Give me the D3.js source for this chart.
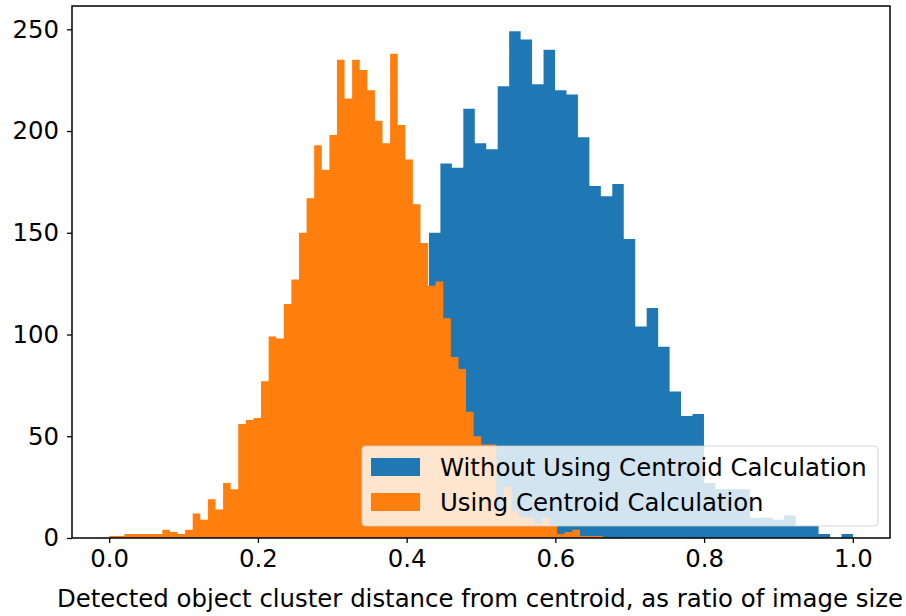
<!DOCTYPE html>
<html>
<head>
<meta charset="utf-8">
<script src="https://cdn.jsdelivr.net/npm/d3@7"></script>
<style>
  html, body { margin: 0; padding: 0; background: #fff; }
  svg { display: block; font-family: "DejaVu Sans", sans-serif; }
</style>
</head>
<body>
<svg id="chart" width="906" height="616"></svg>
<script>
// ---- data (histogram counts) ----
const seriesNames = ["Without Using Centroid Calculation", "Using Centroid Calculation"];
const seriesColors = ["#1f77b4", "#ff7f0e"];

// Without Using Centroid Calculation: bins start at 0.430, width 0.01541
const blueStart = 0.430;
const blueWidth = 0.01541;
const blueCounts = [150, 184, 182, 211, 194, 191, 222, 249, 245, 223, 240, 220, 218, 197, 173, 168, 174, 147,
                    104, 113, 94, 72, 60, 61, 27, 24, 24, 24, 10, 10, 9, 11, 6, 6, 2, 0, 2];

// Using Centroid Calculation: bins start at 0.0, width 0.01021
const orangeStart = 0.0;
const orangeWidth = 0.01021;
const orangeCounts = [1, 1, 2, 2, 2, 2, 2, 4, 3, 2, 4, 12, 9, 19, 14, 27, 24, 56, 58, 59,
                      77, 99, 98, 115, 127, 150, 167, 193, 181, 198, 235, 216, 235, 230, 220, 205, 194, 238, 203, 186,
                      164, 145, 124, 126, 108, 89, 83, 62, 50, 46, 46, 13, 25, 13, 10, 10, 7, 10, 6, 2,
                      3, 4, 1, 1, 1];

const xTicks = [0.0, 0.2, 0.4, 0.6, 0.8, 1.0];
const yTicks = [0, 50, 100, 150, 200, 250];
const xLabel = "Detected object cluster distance from centroid, as ratio of image size";

// ---- layout ----
const FS = 24.4;
const svg = d3.select("#chart");
const pL = 72, pR = 890, pT = 6, pB = 538;

const x = d3.scaleLinear().domain([-0.05, 1.05]).range([pL, pR]);
const y = d3.scaleLinear().domain([0, 261.45]).range([pB, pT]);

svg.append("defs").append("clipPath").attr("id", "clip")
  .append("rect").attr("x", pL).attr("y", pT).attr("width", pR - pL).attr("height", pB - pT);

const plot = svg.append("g").attr("clip-path", "url(#clip)");

function drawHist(counts, start, width, color) {
  // step outline: one point per bin edge, last count repeated for the closing edge
  const pts = counts.map((c, i) => ({ e: start + i * width, c }));
  pts.push({ e: start + counts.length * width, c: counts[counts.length - 1] });
  const area = d3.area()
    .x(d => x(d.e))
    .y0(y(0))
    .y1(d => y(d.c))
    .curve(d3.curveStepAfter);
  plot.append("path").datum(pts).attr("d", area).attr("fill", color);
}
drawHist(blueCounts, blueStart, blueWidth, seriesColors[0]);
drawHist(orangeCounts, orangeStart, orangeWidth, seriesColors[1]);

// ---- legend ----
const lg = svg.append("g");
lg.append("rect").attr("x", 362).attr("y", 446).attr("width", 516).attr("height", 80)
  .attr("rx", 4).attr("ry", 4)
  .attr("fill", "#fff").attr("fill-opacity", 0.8)
  .attr("stroke", "#cccccc").attr("stroke-opacity", 0.8).attr("stroke-width", 1.2);
seriesNames.forEach((name, i) => {
  const yy = 458 + i * 35;
  lg.append("rect").attr("x", 371).attr("y", yy).attr("width", 49).attr("height", 18).attr("fill", seriesColors[i]);
  lg.append("text").attr("x", 440).attr("y", yy + 17.5).attr("font-size", FS).attr("fill", "#000").text(name);
});

// ---- axes ----
const xAxis = d3.axisBottom(x).tickValues(xTicks).tickFormat(d3.format(".1f")).tickSize(5).tickPadding(7);
const gx = svg.append("g").attr("transform", `translate(0,${pB})`).call(xAxis);
gx.select(".domain").remove();
gx.selectAll("line").attr("stroke", "#000").attr("stroke-width", 1.3);
gx.selectAll("text").attr("font-size", FS).attr("fill", "#000").attr("font-family", "DejaVu Sans");

const yAxis = d3.axisLeft(y).tickValues(yTicks).tickSize(5).tickPadding(8);
const gy = svg.append("g").attr("transform", `translate(${pL},0)`).call(yAxis);
gy.select(".domain").remove();
gy.selectAll("line").attr("stroke", "#000").attr("stroke-width", 1.3);
gy.selectAll("text").attr("font-size", FS).attr("fill", "#000").attr("font-family", "DejaVu Sans");

// frame
svg.append("rect").attr("x", pL).attr("y", pT).attr("width", pR - pL).attr("height", pB - pT)
  .attr("fill", "none").attr("stroke", "#000").attr("stroke-width", 1.5);

// x label
svg.append("text").attr("x", 480).attr("y", 607).attr("text-anchor", "middle")
  .attr("font-size", FS).attr("fill", "#000").text(xLabel);
</script>
</body>
</html>
